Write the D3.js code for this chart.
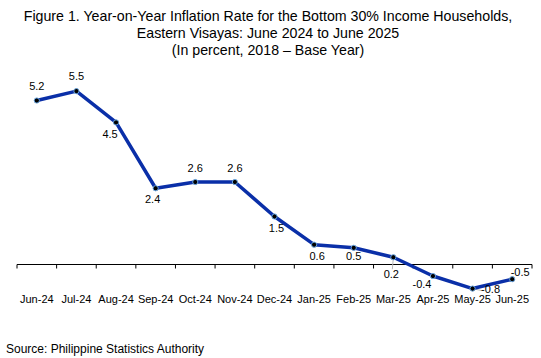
<!DOCTYPE html>
<html><head><meta charset="utf-8">
<script src="https://cdn.jsdelivr.net/npm/d3@7"></script>
<style>body{margin:0;background:#fff}svg{display:block;font-family:"Liberation Sans",Arial,sans-serif}</style>
</head><body><svg id="c" width="541" height="358"></svg>
<script>
const months = ["Jun-24","Jul-24","Aug-24","Sep-24","Oct-24","Nov-24","Dec-24","Jan-25","Feb-25","Mar-25","Apr-25","May-25","Jun-25"];
const inflation = [5.2,5.5,4.5,2.4,2.6,2.6,1.5,0.6,0.5,0.2,-0.4,-0.8,-0.5];
const labelText = ["5.2","5.5","4.5","2.4","2.6","2.6","1.5","0.6","0.5","0.2","-0.4","-0.8","-0.5"];
// label offsets (dx, baseline dy) relative to point
const labelOffsets = [[0,-11],[0,-11],[-6,16],[-3,15],[0,-10],[0,-10],[2,16],[3,15],[0,12],[-2,21],[-11,12],[18,4],[8,-3]];
const titleLines = ["Figure 1. Year-on-Year Inflation Rate for the Bottom 30% Income Households,","Eastern Visayas: June 2024 to June 2025","(In percent, 2018 \u2013 Base Year)"];
const sourceText = "Source: Philippine Statistics Authority";

const svg = d3.select("#c");
const x = d3.scaleBand().domain(months).range([17,532]).padding(0);
const y = d3.scaleLinear().domain([0,5.5]).range([263.5,91.1]);

svg.selectAll("text.title").data(titleLines).join("text").attr("class","title")
  .attr("x",268).attr("y",(d,i)=>20.5+i*17).attr("text-anchor","middle")
  .attr("font-size",14.2).attr("fill","#000").text(d=>d);

const axisY = 264.5;
const ax = svg.append("g").attr("transform",`translate(0,${axisY})`)
  .call(d3.axisBottom(x).tickSize(0).tickPadding(30.5));
ax.select(".domain").attr("stroke","#000").attr("stroke-width",1).attr("d","M17,0H532");
ax.selectAll("text").attr("font-size",11).attr("fill","#000").attr("font-family","Liberation Sans, Arial, sans-serif");
const bounds = months.map(m=>x(m)).concat([x.range()[1]]);
ax.selectAll("line.tk").data(bounds).join("line").attr("class","tk")
  .attr("x1",d=>d).attr("x2",d=>d).attr("y1",0).attr("y2",4).attr("stroke","#000");

const cx = d=>x(d)+x.bandwidth()/2;
// leader lines
svg.append("line").attr("x1",cx("Mar-25")).attr("x2",cx("Mar-25")-1).attr("y1",y(0.2)).attr("y2",y(0.2)+12).attr("stroke","#bbb");
svg.append("line").attr("x1",cx("May-25")).attr("x2",cx("May-25")+9).attr("y1",y(-0.8)).attr("y2",y(-0.8)+2).attr("stroke","#bbb");

const line = d3.line().x((d,i)=>cx(months[i])).y(d=>y(d));
svg.append("path").datum(inflation).attr("d",line).attr("fill","none")
  .attr("stroke","#0a2fa8").attr("stroke-width",3.5).attr("stroke-linejoin","round");
svg.selectAll("circle.pt").data(inflation).join("circle").attr("class","pt")
  .attr("cx",(d,i)=>cx(months[i])).attr("cy",d=>y(d)).attr("r",2.6)
  .attr("fill","#000").attr("stroke","#6aa6e0").attr("stroke-width",1);

svg.selectAll("text.lbl").data(inflation).join("text").attr("class","lbl")
  .attr("x",(d,i)=>cx(months[i])+labelOffsets[i][0]).attr("y",(d,i)=>y(d)+labelOffsets[i][1])
  .attr("text-anchor","middle").attr("font-size",11).attr("fill","#000").text((d,i)=>labelText[i]);

svg.append("text").attr("x",6).attr("y",353).attr("font-size",12).attr("fill","#000").text(sourceText);
</script></body></html>
